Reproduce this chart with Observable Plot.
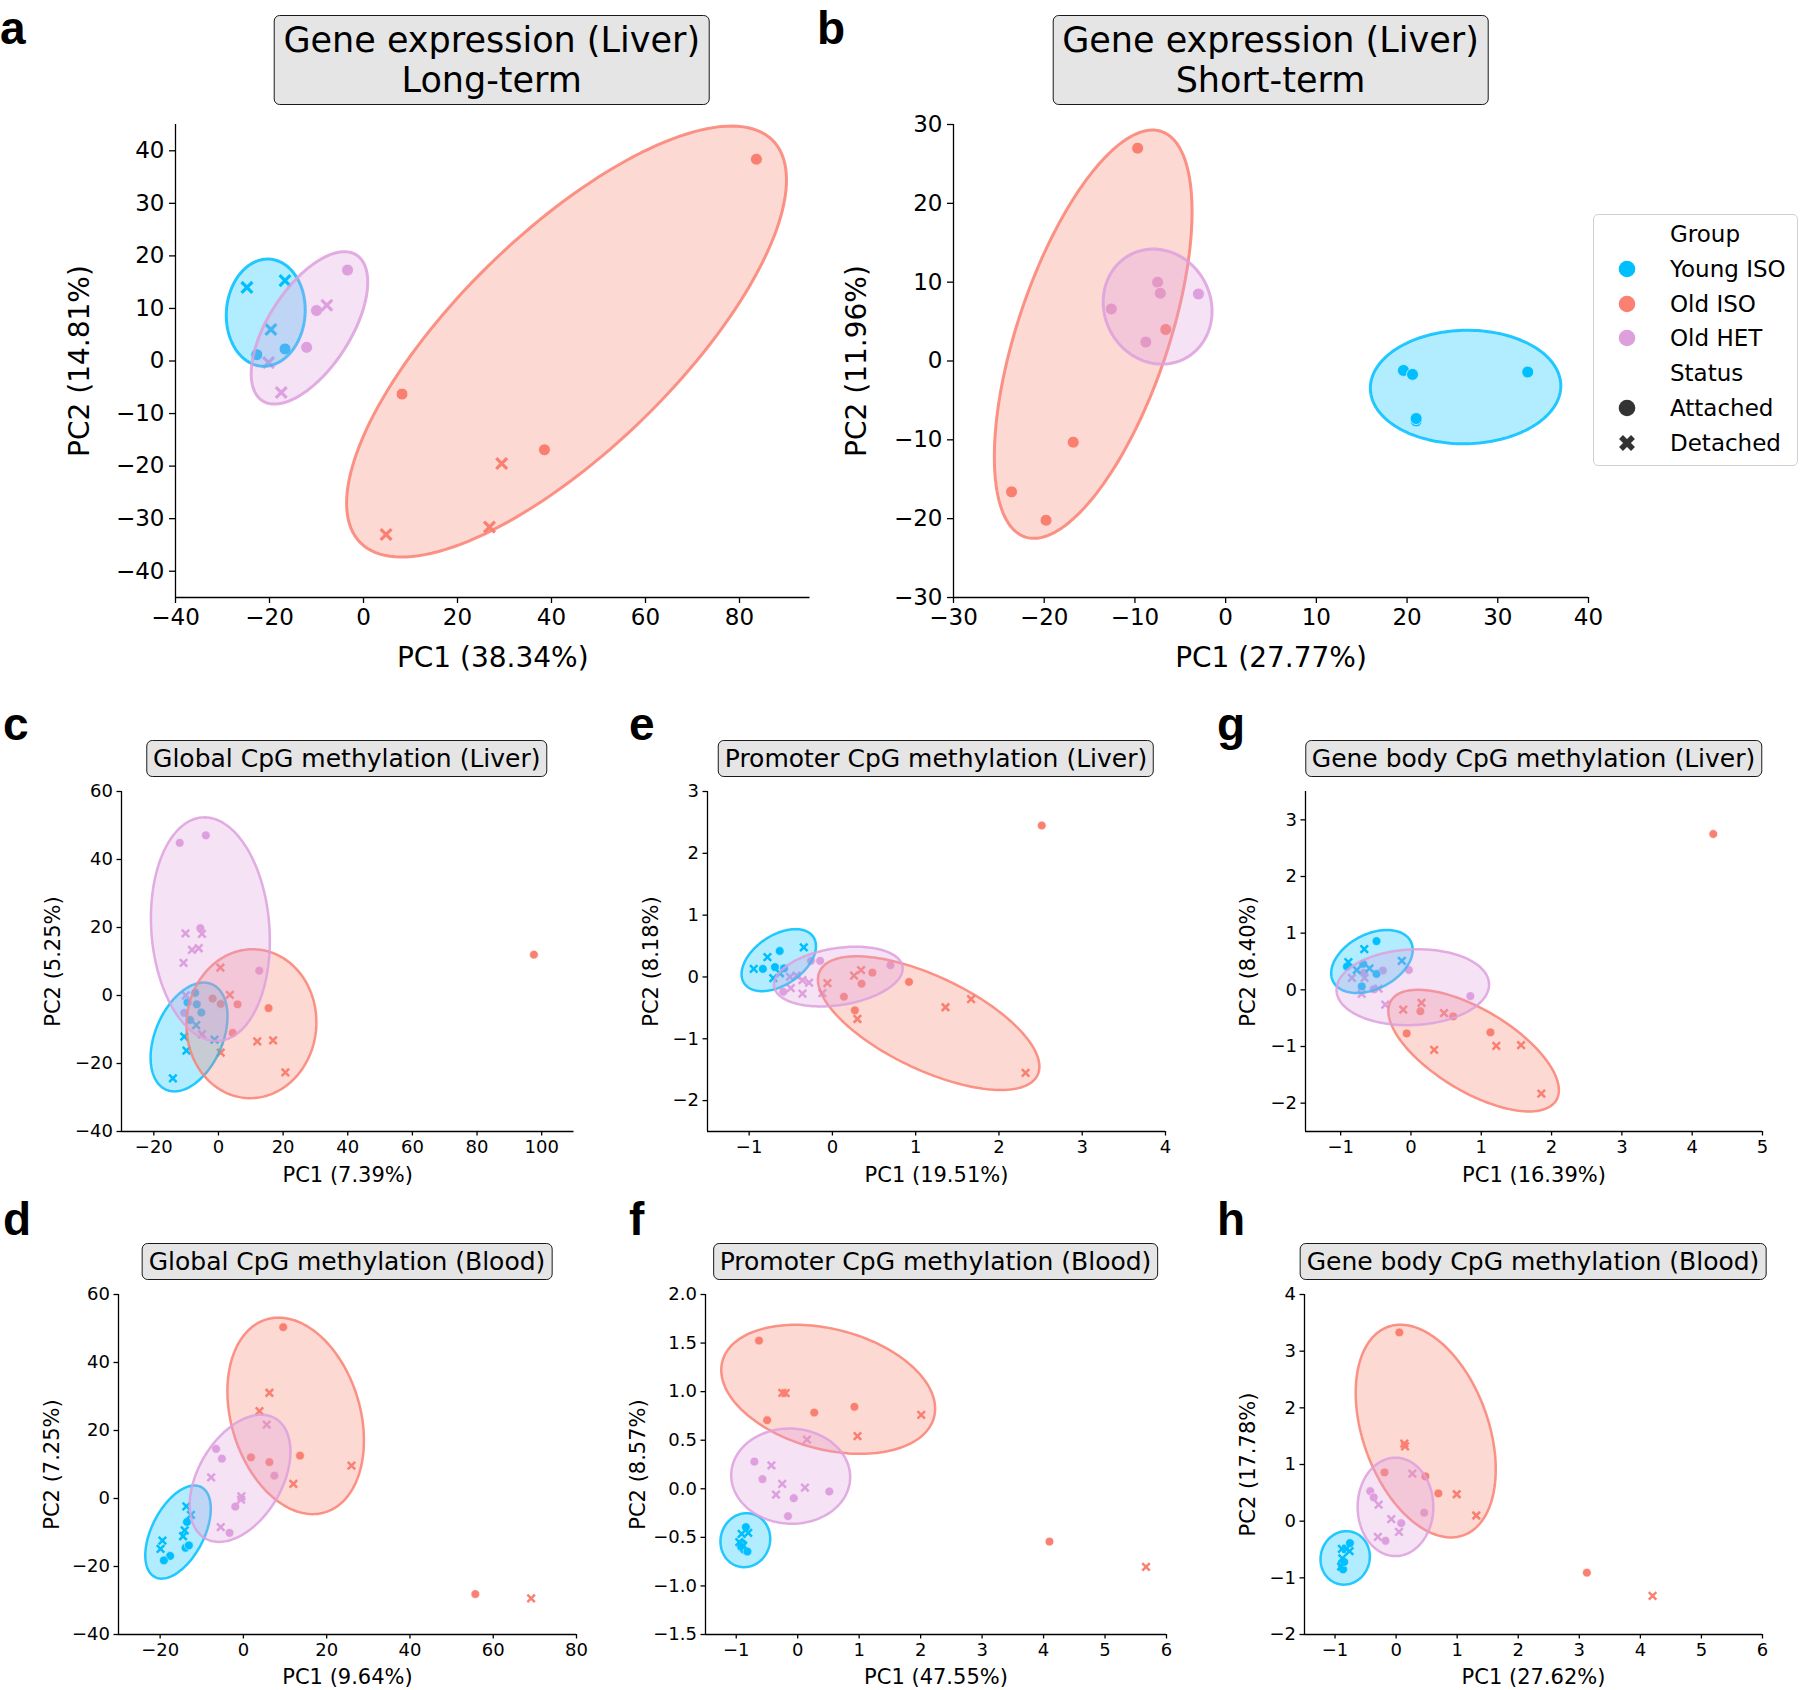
<!DOCTYPE html>
<html><head><meta charset="utf-8">
<script src="https://cdn.jsdelivr.net/npm/d3@7"></script>
<script src="https://cdn.jsdelivr.net/npm/@observablehq/plot@0.6"></script>
<style>
body{margin:0;background:#fff;}
#fig{position:relative;width:1800px;height:1690px;font-family:"DejaVu Sans",sans-serif;overflow:hidden;background:#fff;}
.title{position:absolute;transform:translateX(-50%);background:#e5e5e5;border:1.5px solid #1a1a1a;border-radius:6px;text-align:center;white-space:nowrap;color:#000;font-family:"DejaVu Sans",sans-serif;}
.title.big{font-size:35px;line-height:40px;padding:4px 9px;}
.title.small{font-size:25px;line-height:32px;padding:1.5px 6px;border-width:1.3px;}
.letter{position:absolute;font-family:"Liberation Sans",Arial,sans-serif;font-weight:bold;font-size:46px;line-height:52px;color:#000;}
#legend{position:absolute;left:1593px;top:214px;width:203px;height:250px;border:1.5px solid #d0d0d0;border-radius:5px;background:#fff;}
.lrow{position:absolute;left:0;width:203px;height:34px;font-size:23px;line-height:34px;color:#000;}
.lrow span{position:absolute;left:76px;top:0;}
.lrow svg{position:absolute;left:21px;top:5px;}
</style></head><body><div id="fig"></div>
<script>
// ---------- shared categories ----------
const groupCodes = ["Y", "O", "H"];
const groups = ["Young ISO", "Old ISO", "Old HET"];
const groupColors = ["#00BFFF", "#FA8072", "#DDA0DD"];
const statusCodes = ["A", "D"];
const statuses = ["Attached", "Detached"];

// ---------- panel a : Gene expression (Liver) Long-term ----------
const pointsA = [
  ["Y","D",-24.8,14.0],["Y","D",-16.7,15.3],["Y","D",-19.7,6.0],["Y","A",-22.7,1.2],["Y","A",-16.7,2.3],
  ["H","A",-3.4,17.3],["H","A",-10.0,9.6],["H","D",-7.8,10.6],["H","A",-12.1,2.6],["H","D",-20.2,-0.3],["H","D",-17.5,-6.0],
  ["O","A",83.6,38.4],["O","A",8.2,-6.3],["O","A",38.5,-16.9],["O","D",29.4,-19.5],["O","D",4.8,-33.0],["O","D",26.8,-31.6]
];
// ellipse: group, centre x, centre y, half-width x, half-height y, correlation
const ellipsesA = [["Y",-20.8,9.2,8.4,10.2,0.05],["O",43.2,3.7,46.8,41.0,0.75],["H",-11.5,6.3,12.4,14.5,0.6]];
const xTicksA = [-40,-20,0,20,40,60,80], yTicksA = [-40,-30,-20,-10,0,10,20,30,40];
const xDomainA = [-40,95], yDomainA = [-45,45];

// ---------- panel b : Gene expression (Liver) Short-term ----------
const pointsB = [
  ["O","A",-9.7,27.0],["O","A",-16.8,-10.3],["O","A",-23.6,-16.6],["O","A",-19.8,-20.2],["O","A",-6.6,4.0],
  ["H","A",-7.5,10.0],["H","A",-7.2,8.6],["H","A",-3.0,8.5],["H","A",-12.6,6.6],["H","A",-8.8,2.4],
  ["Y","A",19.6,-1.2],["Y","A",20.6,-1.7],["Y","A",33.3,-1.4],["Y","A",21.0,-7.6],["Y","A",21.0,-7.3]
];
const ellipsesB = [["Y",26.45,-3.3,10.5,7.2,0.02],["O",-14.6,3.4,10.9,25.9,0.6],["H",-7.5,6.9,6.0,7.3,-0.08]];
const xTicksB = [-30,-20,-10,0,10,20,30,40], yTicksB = [-30,-20,-10,0,10,20,30];
const xDomainB = [-30,40], yDomainB = [-30,30];

// ---------- panel c : Global CpG methylation (Liver) ----------
const pointsC = [
  ["H","A",-12.0,44.9],["H","A",-3.9,47.1],["H","A",-5.6,19.8],["H","D",-10.2,18.3],["H","D",-5.1,18.1],["H","D",-8.2,13.4],
  ["H","D",-6.1,13.9],["H","D",-10.8,9.6],["H","A",12.6,7.3],["H","D",-10.1,0.0],["H","A",-10.6,-5.1],["H","D",-5.1,-11.4],
  ["Y","A",-7.2,0.8],["Y","A",-9.6,-2.0],["Y","A",-6.7,-2.6],["Y","A",-5.3,-5.0],["Y","A",-8.8,-7.2],["Y","D",-6.9,-8.7],
  ["Y","D",-10.6,-12.1],["Y","D",-1.2,-13.0],["Y","D",-9.9,-16.2],["Y","D",-14.1,-24.4],
  ["O","A",97.6,12.0],["O","D",0.6,8.2],["O","D",3.5,0.2],["O","A",-1.8,-0.9],["O","A",0.7,-2.5],["O","A",5.9,-2.6],
  ["O","A",15.5,-3.7],["O","A",4.4,-11.0],["O","D",12.0,-13.5],["O","D",16.9,-13.2],["O","D",0.7,-16.8],["O","D",20.7,-22.6]
];
const ellipsesC = [["Y",-9.1,-12.2,11.9,16.0,0.38],["O",10.2,-8.3,20.1,21.9,0.02],["H",-2.5,19.5,18.4,32.9,-0.1]];
const xTicksC = [-20,0,20,40,60,80,100], yTicksC = [-40,-20,0,20,40,60];
const xDomainC = [-30,110], yDomainC = [-40,60];

// ---------- panel e : Promoter CpG methylation (Liver) ----------
const pointsE = [
  ["Y","D",-0.945,0.13],["Y","A",-0.835,0.13],["Y","D",-0.78,0.32],["Y","A",-0.633,0.42],["Y","D",-0.344,0.48],
  ["Y","A",-0.69,0.16],["Y","A",-0.58,0.14],["Y","D",-0.71,-0.02],["Y","D",-0.63,0.06],
  ["H","A",-0.147,0.26],["H","A",-0.257,0.26],["H","A",0.697,0.19],["H","D",-0.51,0.0],["H","D",-0.43,0.02],["H","D",-0.36,-0.05],
  ["H","D",-0.28,-0.09],["H","D",-0.5,-0.18],["H","D",-0.36,-0.27],["H","D",-0.12,-0.26],["H","A",-0.59,-0.24],
  ["O","A",2.514,2.45],["O","A",0.48,0.07],["O","A",0.92,-0.08],["O","A",0.35,-0.11],["O","A",0.138,-0.32],["O","A",0.27,-0.54],
  ["O","D",-0.06,-0.1],["O","D",0.26,0.02],["O","D",0.344,0.11],["O","D",0.30,-0.68],["O","D",1.358,-0.49],["O","D",1.665,-0.36],["O","D",2.32,-1.55]
];
const ellipsesE = [["Y",-0.644,0.272,0.447,0.502,0.45],["O",1.156,-0.747,1.33,1.081,-0.65],["H",0.071,0.006,0.773,0.483,0.27]];
const xTicksE = [-1,0,1,2,3,4], yTicksE = [-2,-1,0,1,2,3];
const xDomainE = [-1.5,4], yDomainE = [-2.5,3];

// ---------- panel g : Gene body CpG methylation (Liver) ----------
const pointsG = [
  ["O","A",4.30,2.75],["O","A",0.134,-0.378],["O","A",0.60,-0.47],["O","A",-0.061,-0.77],["O","A",1.13,-0.75],
  ["O","D",-0.11,-0.35],["O","D",0.15,-0.23],["O","D",0.47,-0.41],["O","D",0.33,-1.06],["O","D",1.214,-0.99],["O","D",1.566,-0.975],["O","D",1.854,-1.83],
  ["H","A",0.845,-0.11],["H","A",-0.03,0.35],["H","A",-0.40,0.34],["H","D",-0.84,0.21],["H","D",-0.66,0.21],["H","A",-0.67,0.30],
  ["H","D",-0.46,0.02],["H","A",-0.53,0.01],["H","D",-0.70,-0.07],["H","D",-0.365,-0.26],
  ["Y","A",-0.49,0.86],["Y","D",-0.664,0.72],["Y","D",-0.89,0.49],["Y","D",-0.13,0.51],["Y","A",-0.91,0.41],
  ["Y","D",-0.77,0.35],["Y","D",-0.59,0.38],["Y","A",-0.68,0.46],["Y","A",-0.49,0.28],["Y","A",-0.70,0.06]
];
const ellipsesG = [["Y",-0.555,0.5,0.58,0.556,0.37],["O",0.891,-1.072,1.213,1.074,-0.65],["H",0.026,0.046,1.085,0.67,0.07]];
const xTicksG = [-1,0,1,2,3,4,5], yTicksG = [-2,-1,0,1,2,3];
const xDomainG = [-1.5,5], yDomainG = [-2.5,3.5];

// ---------- panel d : Global CpG methylation (Blood) ----------
const pointsD = [
  ["O","A",9.56,50.4],["O","D",6.24,31.1],["O","D",3.85,25.7],["O","A",1.82,12.1],["O","A",13.6,12.6],["O","A",6.24,10.7],
  ["O","D",12.0,4.3],["O","D",25.95,9.66],["O","A",55.7,-28.1],["O","D",69.1,-29.4],
  ["H","D",5.6,21.7],["H","A",-6.56,14.6],["H","A",-5.17,11.7],["H","A",7.44,6.7],["H","D",-7.75,6.2],["H","D",-0.48,0.6],
  ["H","D",-0.57,-0.35],["H","A",-1.95,-2.4],["H","D",-5.45,-8.4],["H","A",-3.33,-10.1],
  ["Y","D",-13.7,-2.3],["Y","D",-12.6,-4.8],["Y","A",-13.55,-6.9],["Y","D",-14.1,-9.4],["Y","D",-14.5,-11.1],["Y","D",-19.45,-12.4],
  ["Y","D",-19.9,-14.8],["Y","A",-13.9,-14.5],["Y","A",-13.1,-13.8],["Y","A",-17.6,-16.9],["Y","A",-19.1,-18.2]
];
const ellipsesD = [["Y",-15.7,-9.87,7.87,13.7,0.5],["O",12.55,24.3,16.4,28.9,-0.25],["H",-0.8,5.93,12.1,18.7,0.42]];
const xTicksD = [-20,0,20,40,60,80], yTicksD = [-40,-20,0,20,40,60];
const xDomainD = [-30,80], yDomainD = [-40,60];

// ---------- panel f : Promoter CpG methylation (Blood) ----------
const pointsF = [
  ["O","A",-0.63,1.526],["O","D",-0.25,0.988],["O","D",-0.196,0.984],["O","A",-0.497,0.706],["O","A",0.269,0.785],["O","A",0.923,0.844],
  ["O","D",2.01,0.761],["O","D",0.973,0.541],["O","A",4.096,-0.543],["O","D",5.667,-0.804],
  ["H","D",0.15,0.507],["H","A",-0.705,0.28],["H","D",-0.428,0.24],["H","A",-0.573,0.10],["H","D",-0.252,0.05],["H","D",0.118,0.013],
  ["H","D",-0.353,-0.06],["H","A",-0.064,-0.097],["H","A",0.514,-0.028],["H","A",-0.158,-0.282],
  ["Y","A",-0.843,-0.395],["Y","D",-0.912,-0.464],["Y","D",-0.805,-0.454],["Y","D",-0.95,-0.55],["Y","A",-0.9,-0.56],
  ["Y","A",-0.918,-0.601],["Y","A",-0.874,-0.629],["Y","A",-0.818,-0.646],["Y","D",-0.887,-0.584]
];
const ellipsesF = [["Y",-0.852,-0.529,0.405,0.278,0.05],["O",0.496,1.024,1.74,0.664,-0.3],["H",-0.114,0.13,0.968,0.49,-0.02]];
const xTicksF = [-1,0,1,2,3,4,5,6], yTicksF = [-1.5,-1.0,-0.5,0.0,0.5,1.0,1.5,2.0];
const xDomainF = [-1.5,6], yDomainF = [-1.5,2];

// ---------- panel h : Gene body CpG methylation (Blood) ----------
const pointsH = [
  ["O","A",0.053,3.33],["O","D",0.134,1.37],["O","D",0.147,1.32],["O","A",-0.19,0.86],["O","A",0.479,0.79],["O","A",0.692,0.49],
  ["O","D",0.993,0.475],["O","D",1.313,0.1],["O","A",3.124,-0.909],["O","D",4.2,-1.32],
  ["H","D",0.266,0.84],["H","A",-0.423,0.53],["H","A",-0.367,0.42],["H","D",-0.286,0.29],["H","A",0.46,0.15],["H","D",-0.079,0.035],
  ["H","A",0.084,-0.035],["H","D",0.047,-0.19],["H","D",-0.298,-0.276],["H","A",-0.173,-0.346],
  ["Y","A",-0.756,-0.387],["Y","D",-0.887,-0.49],["Y","D",-0.818,-0.49],["Y","D",-0.762,-0.528],["Y","D",-0.881,-0.657],
  ["Y","A",-0.887,-0.774],["Y","A",-0.868,-0.85],["Y","D",-0.9,-0.80],["Y","A",-0.85,-0.72]
];
const ellipsesH = [["Y",-0.834,-0.648,0.404,0.472,0.05],["O",0.485,1.59,1.147,1.877,-0.36],["H",-0.01,0.252,0.62,0.868,0.0]];
const xTicksH = [-1,0,1,2,3,4,5,6], yTicksH = [-2,-1,0,1,2,3,4];
const xDomainH = [-1.5,6], yDomainH = [-2,4];

// ---------- texts ----------
const panelLetters = ["a","b","c","e","g","d","f","h"];
const panelTitles = [
  "Gene expression (Liver)\nLong-term", "Gene expression (Liver)\nShort-term",
  "Global CpG methylation (Liver)", "Promoter CpG methylation (Liver)", "Gene body CpG methylation (Liver)",
  "Global CpG methylation (Blood)", "Promoter CpG methylation (Blood)", "Gene body CpG methylation (Blood)"
];
const xLabels = ["PC1 (38.34%)","PC1 (27.77%)","PC1 (7.39%)","PC1 (19.51%)","PC1 (16.39%)","PC1 (9.64%)","PC1 (47.55%)","PC1 (27.62%)"];
const yLabels = ["PC2 (14.81%)","PC2 (11.96%)","PC2 (5.25%)","PC2 (8.18%)","PC2 (8.40%)","PC2 (7.25%)","PC2 (8.57%)","PC2 (17.78%)"];

// ---------- drawing ----------
const fig = document.getElementById("fig");
const colorOf = c => groupColors[groupCodes.indexOf(c)];

function ellipseOutline(e) {
  const [g, mx, my, hx, hy, rho] = e;
  const rx = Math.sqrt(1 + rho), ry = Math.sqrt(1 - rho);
  return d3.range(0, 160).map(i => {
    const t = i / 160 * 2 * Math.PI;
    const u = rx * Math.cos(t), v = ry * Math.sin(t);
    return {g, x: mx + hx * (u - v) / Math.SQRT2, y: my + hy * (u + v) / Math.SQRT2};
  });
}

function makePanel(k, pts, ells, xDomain, yDomain, xTicks, yTicks, box, big, yFmt) {
  const [L, R, T, B, xOff, yOff] = box;
  const tickFont = big ? 23 : 18, labelFont = big ? 28 : 21;
  const ml = 140, mr = 40, mt = 30, mb = 80;
  const rows = pts.map(([g, s, x, y]) => ({g, s, x, y}));
  const att = rows.filter(d => d.s === "A"), det = rows.filter(d => d.s === "D");
  const fmt = d3.format("d");
  const marks = [
    Plot.dot(att, {x: "x", y: "y", fill: "g", r: big ? 6 : 4.4, stroke: "white", strokeWidth: big ? 1 : 0.7}),
    Plot.dot(det, {x: "x", y: "y", symbol: "times", stroke: "g", r: big ? 5 : 3.5, strokeWidth: big ? 3.2 : 2.5})
  ];
  for (const e of ells) {
    const c = colorOf(e[0]);
    marks.push(Plot.line(ellipseOutline(e), {x: "x", y: "y", curve: "linear-closed", fill: c, fillOpacity: 0.3,
      stroke: c, strokeOpacity: 0.85, strokeWidth: big ? 3 : 2.5}));
  }
  const tickSize = big ? 6 : 4.5;
  marks.push(
    Plot.axisX({ticks: xTicks, tickFormat: fmt, tickSize, tickPadding: big ? 5 : 4, label: null, fontSize: tickFont, strokeWidth: 1.3}),
    Plot.axisY({ticks: yTicks, tickFormat: yFmt || fmt, tickSize, tickPadding: big ? 5 : 4, label: null, fontSize: tickFont, strokeWidth: 1.3}),
    Plot.ruleX([xDomain[0]], {strokeWidth: 1.3}),
    Plot.ruleY([yDomain[0]], {strokeWidth: 1.3}),
    Plot.text([xLabels[k]], {text: d => d, frameAnchor: "bottom", dy: xOff, fontSize: labelFont, textAnchor: "middle", lineAnchor: "middle"}),
    Plot.text([yLabels[k]], {text: d => d, frameAnchor: "left", dx: -yOff, rotate: -90, fontSize: labelFont, textAnchor: "middle", lineAnchor: "middle"})
  );
  const svg = Plot.plot({
    width: R - L + ml + mr, height: B - T + mt + mb,
    marginLeft: ml, marginRight: mr, marginTop: mt, marginBottom: mb,
    x: {domain: xDomain}, y: {domain: yDomain},
    color: {domain: groupCodes, range: groupColors},
    style: {fontFamily: "DejaVu Sans", fontSize: tickFont + "px", color: "black", background: "transparent", overflow: "visible"},
    marks
  });
  svg.style.position = "absolute";
  svg.style.left = (L - ml) + "px";
  svg.style.top = (T - mt) + "px";
  fig.appendChild(svg);

  // title box
  const t = document.createElement("div");
  t.className = "title " + (big ? "big" : "small");
  t.style.left = ((L + R) / 2) + "px";
  t.style.top = (big ? 15 : T - 51) + "px";
  t.innerHTML = panelTitles[k].split("\n").join("<br>");
  fig.appendChild(t);
}

// layout boxes: frame left, right, top, bottom, x-label offset, y-label offset
makePanel(0, pointsA, ellipsesA, xDomainA, yDomainA, xTicksA, yTicksA, [174.5, 809, 124, 597, 61, 95], true);
makePanel(1, pointsB, ellipsesB, xDomainB, yDomainB, xTicksB, yTicksB, [953, 1588, 124, 597, 61, 96], true);
makePanel(2, pointsC, ellipsesC, xDomainC, yDomainC, xTicksC, yTicksC, [120.5, 573, 791, 1131, 44, 68], false);
makePanel(3, pointsE, ellipsesE, xDomainE, yDomainE, xTicksE, yTicksE, [707, 1165, 791, 1131, 44, 56], false);
makePanel(4, pointsG, ellipsesG, xDomainG, yDomainG, xTicksG, yTicksG, [1305, 1762, 791, 1131, 44, 57], false);
makePanel(5, pointsD, ellipsesD, xDomainD, yDomainD, xTicksD, yTicksD, [118, 576, 1294, 1634, 43, 66], false);
makePanel(6, pointsF, ellipsesF, xDomainF, yDomainF, xTicksF, yTicksF, [705, 1166, 1294, 1634, 43, 67], false, d3.format(".1f"));
makePanel(7, pointsH, ellipsesH, xDomainH, yDomainH, xTicksH, yTicksH, [1304, 1762, 1294, 1634, 43, 56], false);

// panel letters (baselines at about 41, 737, 1232)
const letterPos = [[0, 2], [817, 2], [3, 698], [629, 698], [1217, 698], [3, 1193], [629, 1193], [1217, 1193]];
panelLetters.forEach((l, i) => {
  const d = document.createElement("div");
  d.className = "letter";
  d.textContent = l;
  d.style.left = letterPos[i][0] + "px";
  d.style.top = letterPos[i][1] + "px";
  fig.appendChild(d);
});

// legend
const legend = document.createElement("div");
legend.id = "legend";
fig.appendChild(legend);
const legendRows = [
  {label: "Group"},
  ...groups.map((g, i) => ({label: g, color: groupColors[i], shape: "A"})),
  {label: "Status"},
  ...statuses.map((s, i) => ({label: s, color: "#333333", shape: statusCodes[i]}))
];
legendRows.forEach((r, i) => {
  const row = document.createElement("div");
  row.className = "lrow";
  row.style.top = (2 + i * 34.8) + "px";
  let m = "";
  if (r.shape === "A") m = `<svg width="24" height="24"><circle cx="12" cy="12" r="8.3" fill="${r.color}"/></svg>`;
  if (r.shape === "D") m = `<svg width="24" height="24"><path d="M6 6 L18 18 M18 6 L6 18" stroke="${r.color}" stroke-width="5.5" stroke-linecap="butt"/></svg>`;
  row.innerHTML = m + `<span>${r.label}</span>`;
  legend.appendChild(row);
});
</script></body></html>
